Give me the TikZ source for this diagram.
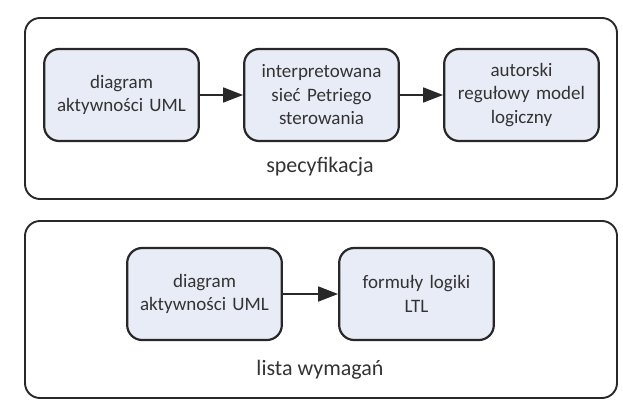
\documentclass[tikz,border=0pt]{standalone}
\usepackage{fontspec}
\setmainfont{Carlito}
\usetikzlibrary{positioning, fit, calc, arrows.meta}
\definecolor{tlo}{RGB}{232,236,246}
\definecolor{linia}{RGB}{40,40,40}

\begin{document}
\begin{tikzpicture}[x=1pt, y=-1pt,
  blok/.style={draw=linia, line width=2.2pt, rounded corners=15pt, fill=tlo,
    minimum width=153pt, minimum height=92pt, text width=148pt, align=center,
    text=black!80, font=\fontsize{19}{23.5}\selectfont},
  ramka/.style={draw=linia, line width=1.9pt, rounded corners=15pt, minimum width=592pt},
  opis/.style={text=black!80, font=\fontsize{22}{26}\selectfont},
  strz/.style={-{Triangle[length=20pt,width=15pt]}, line width=1.8pt, draw=linia}]
\useasboundingbox (0,0) rectangle (623,401);

% ramki
\node[ramka, minimum height=181pt] (S) at (321,108.5) {};
\node[ramka, minimum height=177pt] (W) at (321,309.5) {};

% specyfikacja
\node[blok] (S1) at (121.5,95) {diagram\\aktywności UML};
\node[blok] (S2) at (321.5,95) {interpretowana\\sieć Petriego\\sterowania};
\node[blok] (S3) at (521.5,95) {autorski\\regułowy model\\logiczny};
\node[opis] (Sopis) at (320,167) {specyfikacja};

% lista wymagan
\node[blok] (W1) at (204.5,294) {diagram\\aktywności UML};
\node[blok] (W2) at (416.5,294) {formuły logiki\\LTL};
\node[opis] (Wopis) at (320,370) {lista wymagań};

\draw[strz] (S1) -- (S2);
\draw[strz] (S2) -- (S3);
\draw[strz] (W1) -- (W2);
\end{tikzpicture}
\end{document}
